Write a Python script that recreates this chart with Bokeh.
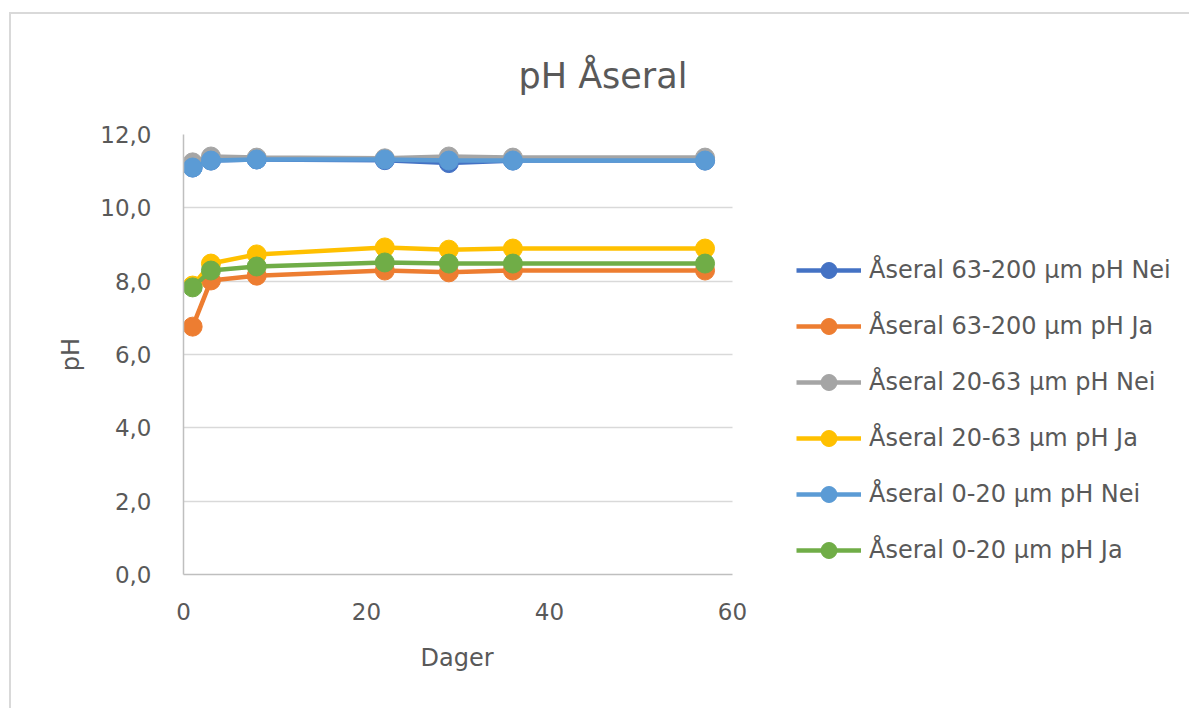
from bokeh.plotting import figure
from bokeh.models import Legend, LegendItem, CustomJSTickFormatter, FixedTicker, Range1d, Title, Grid
from bokeh.embed import file_html
from bokeh.resources import INLINE

days = [1, 3, 8, 22, 29, 36, 57]
s_63_200_nei = [11.10, 11.29, 11.32, 11.30, 11.22, 11.29, 11.29]
s_63_200_ja = [6.76, 8.02, 8.15, 8.29, 8.24, 8.29, 8.29]
s_20_63_nei = [11.24, 11.40, 11.37, 11.35, 11.40, 11.37, 11.37]
s_20_63_ja = [7.88, 8.48, 8.73, 8.92, 8.86, 8.89, 8.89]
s_0_20_nei = [11.10, 11.29, 11.32, 11.32, 11.29, 11.29, 11.29]
s_0_20_ja = [7.83, 8.29, 8.40, 8.51, 8.48, 8.48, 8.48]

names = ["Åseral 63-200 µm pH Nei", "Åseral 63-200 µm pH Ja",
         "Åseral 20-63 µm pH Nei", "Åseral 20-63 µm pH Ja",
         "Åseral 0-20 µm pH Nei", "Åseral 0-20 µm pH Ja"]
series = [s_63_200_nei, s_63_200_ja, s_20_63_nei, s_20_63_ja, s_0_20_nei, s_0_20_ja]
colors = ["#4472C4", "#ED7D31", "#A5A5A5", "#FFC000", "#5B9BD5", "#70AD47"]
x_ticks = [0, 20, 40, 60]
y_ticks = [0, 2, 4, 6, 8, 10, 12]
X_MAX, Y_MAX = 60, 12

FONT = "DejaVu Sans"
TXT = "#595959"

W, H = 1180, 696
FL, FT = 172, 120
PLOT_W, FH = 549, 440          # pixel size of the 0..60 x 0..12 plotting area
MBR = 5
FRAME_W = W - FL - MBR          # frame extends under the legend
x_end = X_MAX * FRAME_W / PLOT_W

p = figure(width=W, height=H, output_backend="svg", toolbar_location=None,
           x_range=Range1d(0, x_end), y_range=Range1d(0, Y_MAX),
           min_border_left=FL, min_border_right=MBR,
           min_border_top=FT, min_border_bottom=H - FT - FH)
p.styles = {"border-left": "2px solid #d9d9d9", "border-top": "2px solid #d9d9d9",
            "margin-left": "9px", "margin-top": "12px"}

p.title = Title(text="pH Åseral", align="left", offset=335, standoff=78,
                text_font=FONT, text_font_size="35px", text_font_style="normal",
                text_color=TXT)

p.outline_line_color = None
p.xgrid.grid_line_color = None
if "cross_bounds" in Grid.properties():
    p.ygrid.grid_line_color = "#d9d9d9"
    p.ygrid.grid_line_width = 1.5
    p.ygrid.cross_bounds = (0, X_MAX)
else:
    p.ygrid.grid_line_color = None
    p.segment(x0=[0] * len(y_ticks), x1=[X_MAX] * len(y_ticks), y0=y_ticks, y1=y_ticks,
              line_color="#d9d9d9", line_width=1.5, level="underlay")

p.xaxis.ticker = FixedTicker(ticks=x_ticks)
p.xaxis.bounds = (0, X_MAX)
p.yaxis.ticker = FixedTicker(ticks=y_ticks)
p.yaxis.formatter = CustomJSTickFormatter(code="return tick.toFixed(1).replace('.', ',');")

for ax in (p.xaxis[0], p.yaxis[0]):
    ax.axis_line_color = "#bfbfbf"
    ax.axis_line_width = 1.5
    ax.major_tick_line_color = None
    ax.minor_tick_line_color = None
    ax.major_label_text_font = FONT
    ax.major_label_text_font_size = "23px"
    ax.major_label_text_color = TXT
    ax.axis_label_text_font = FONT
    ax.axis_label_text_font_size = "24px"
    ax.axis_label_text_font_style = "normal"
    ax.axis_label_text_color = TXT

p.yaxis.axis_label = "pH"
p.xaxis.major_label_standoff = 22
p.yaxis.major_label_standoff = 26
p.yaxis.axis_label_standoff = 12

# x-axis title, placed under the 0..60 span
p.add_layout(Title(text="Dager", align="left", offset=237, standoff=38,
                   text_font=FONT, text_font_size="24px", text_font_style="normal",
                   text_color=TXT), "below")

items = []
for name, vals, c in zip(names, series, colors):
    r1 = p.line(days, vals, line_color=c, line_width=4.5)
    r2 = p.scatter(days, vals, size=19, fill_color=c, line_color=c)
    items.append(LegendItem(label=name, renderers=[r1, r2]))

legend = Legend(items=items, location=(613, 4), orientation="vertical",
                label_text_font=FONT, label_text_font_size="24px", label_text_color=TXT,
                glyph_width=65, glyph_height=40, label_height=40, spacing=16,
                padding=5, margin=0, border_line_color=None, background_fill_alpha=0,
                label_standoff=8)
p.add_layout(legend, "center")

open("out.html", "w").write(file_html(p, INLINE))
